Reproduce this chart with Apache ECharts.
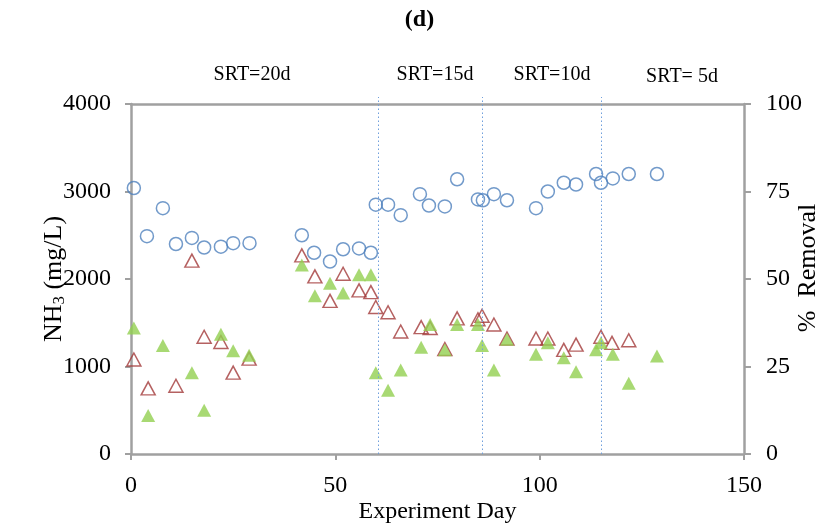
<!DOCTYPE html>
<html>
<head>
<meta charset="utf-8">
<script src="https://cdn.jsdelivr.net/npm/echarts@6/dist/echarts.min.js"></script>
<style>
  html, body { margin: 0; padding: 0; background: #fff; }
  #chart { width: 839px; height: 530px; }
</style>
</head>
<body>
<div id="chart"></div>
<script>
// influent NH3 (mg/L)
const influentDays = [0.7, 3.9, 7.8, 11, 14.9, 17.9, 22, 25, 29, 41.8, 44.8, 48.7, 51.9, 55.8, 58.7,
  59.9, 62.9, 66, 70.7, 72.9, 76.8, 79.8, 84.9, 86.1, 88.8, 92, 99.1, 102, 105.9, 108.9, 113.8, 115,
  117.9, 121.8, 128.7];
const influentVals = [3040, 2490, 2810, 2400, 2470, 2360, 2370, 2410, 2410, 2500, 2300, 2200, 2340, 2350, 2300,
  2850, 2850, 2730, 2970, 2840, 2830, 3140, 2910, 2900, 2970, 2900, 2810, 3000, 3100, 3080, 3200, 3100,
  3150, 3200, 3200];

// effluent NH3 (mg/L)
const effluentDays = [0.7, 4.2, 11, 14.9, 17.9, 22, 25, 28.9, 41.8, 45, 48.7, 51.9, 55.8, 58.7, 59.9,
  62.9, 66, 71, 73.2, 76.8, 79.8, 84.9, 85.9, 88.8, 92, 99.1, 102, 105.9, 108.9, 115, 117.7, 121.8];
const effluentVals = [1080, 750, 780, 2210, 1340, 1280, 930, 1090, 2270, 2030, 1750, 2060, 1870, 1850, 1680,
  1620, 1400, 1450, 1440, 1200, 1550, 1540, 1580, 1480, 1320, 1320, 1320, 1190, 1250, 1340, 1270, 1300];

// % removal
const removalDays = [0.7, 4.2, 7.8, 14.9, 17.9, 22, 25, 28.9, 41.8, 45, 48.7, 51.9, 55.8, 58.7, 59.9,
  62.9, 66, 71, 73.2, 76.8, 79.8, 84.9, 85.9, 88.8, 92, 99.1, 102, 105.9, 108.9, 113.8, 115, 117.9,
  121.8, 128.7];
const removalVals = [36, 11, 31, 23.2, 12.5, 34.2, 29.5, 28.2, 54, 45.2, 48.8, 46, 51.2, 51.2, 23.2,
  18.2, 24, 30.5, 37, 29.8, 37, 37, 31, 24, 32.8, 28.5, 31.8, 27.5, 23.5, 29.8, 31.8, 28.5,
  20.2, 28];

// SRT periods
const srtLines = [60.5, 86, 115];
const srtLabels = ["SRT=20d", "SRT=15d", "SRT=10d", "SRT= 5d"];

const zip = (a, b) => a.map((d, i) => [d, b[i]]);

const font = "'Liberation Serif', 'Times New Roman', serif";
const axisGray = "#a0a0a0";

const chart = echarts.init(document.getElementById("chart"));

const srtPos = [[252, 75], [435, 75], [552, 75], [682, 77]];

const tickLabel = { fontFamily: font, fontSize: 24, color: "#000", formatter: (v) => String(v) };

chart.setOption({
  animation: false,
  textStyle: { fontFamily: font },
  title: {
    text: "(d)",
    left: "center",
    top: 3,
    textStyle: { fontFamily: font, fontWeight: "bold", fontSize: 24, color: "#000" },
  },
  graphic: srtLabels.map((t, i) => ({
    type: "text",
    x: srtPos[i][0],
    y: srtPos[i][1],
    style: {
      text: t,
      font: "20px " + font,
      fill: "#000",
      textAlign: "center",
      textVerticalAlign: "middle",
    },
  })),
  grid: { left: 131, right: 95, top: 104, bottom: 76, containLabel: false, outerBoundsMode: "none" },
  xAxis: [
    {
      type: "value",
      min: 0,
      max: 150,
      interval: 50,
      name: "Experiment Day",
      nameLocation: "middle",
      nameGap: 46,
      nameMoveOverlap: false,
      nameTextStyle: { fontFamily: font, fontSize: 24, color: "#000" },
      axisLine: { show: true, onZero: false, lineStyle: { color: axisGray, width: 2.5 } },
      axisTick: { show: true, length: 6, lineStyle: { color: axisGray, width: 2 } },
      axisLabel: Object.assign({ margin: 20 }, tickLabel),
      splitLine: { show: false },
    },
    {
      type: "value",
      position: "top",
      min: 0,
      max: 150,
      axisLine: { show: true, onZero: false, lineStyle: { color: axisGray, width: 2.5 } },
      axisTick: { show: false },
      axisLabel: { show: false },
      splitLine: { show: false },
    },
  ],
  yAxis: [
    {
      type: "value",
      min: 0,
      max: 4000,
      interval: 1000,
      name: "{a|NH}{s|3}{a| (mg/L)}",
      nameLocation: "middle",
      nameGap: 63,
      nameRotate: 90,
      nameMoveOverlap: false,
      nameTextStyle: {
        rich: {
          a: { fontFamily: font, fontSize: 26, color: "#000" },
          s: { fontFamily: font, fontSize: 17, color: "#000", padding: [11, 0, 0, 0] },
        },
      },
      axisLine: { show: true, onZero: false, lineStyle: { color: axisGray, width: 2.5 } },
      axisTick: { show: true, length: 6, lineStyle: { color: axisGray, width: 2 } },
      axisLabel: Object.assign({ margin: 20 }, tickLabel),
      splitLine: { show: false },
    },
    {
      type: "value",
      position: "right",
      min: 0,
      max: 100,
      interval: 25,
      name: "%  Removal",
      nameLocation: "middle",
      nameGap: 51,
      nameRotate: 90,
      nameMoveOverlap: false,
      nameTextStyle: { fontFamily: font, fontSize: 26, color: "#000", padding: [0, 0, 0, 22] },
      axisLine: { show: true, onZero: false, lineStyle: { color: axisGray, width: 2.5 } },
      axisTick: { show: true, length: 7, lineStyle: { color: axisGray, width: 2 } },
      axisLabel: Object.assign({ margin: 22 }, tickLabel),
      splitLine: { show: false },
    },
  ],
  series: [
    {
      name: "Influent",
      type: "scatter",
      data: zip(influentDays, influentVals),
      symbol: "circle",
      symbolSize: 13,
      itemStyle: { color: "rgba(255,255,255,0)", borderColor: "#4f81bd", borderWidth: 1.5 },
      markLine: {
        silent: true,
        symbol: "none",
        label: { show: false },
        lineStyle: { color: "#6f9fdc", type: [1.5, 2.5], width: 1, opacity: 1 },
        data: srtLines.map((x) => [{ coord: [x, 0] }, { coord: [x, 4000], y: 97 }]),
      },
      z: 3,
    },
    {
      name: "Effluent",
      type: "scatter",
      data: zip(effluentDays, effluentVals),
      symbol: "triangle",
      symbolSize: [14, 13],
      itemStyle: { color: "rgba(255,255,255,0)", borderColor: "#a33a3a", borderWidth: 1.5 },
      z: 2,
    },
    {
      name: "Removal",
      type: "scatter",
      yAxisIndex: 1,
      data: zip(removalDays, removalVals),
      symbol: "triangle",
      symbolSize: [14, 13],
      itemStyle: { color: "#92d050" },
      z: 4,
    },
  ],
});
</script>
</body>
</html>
